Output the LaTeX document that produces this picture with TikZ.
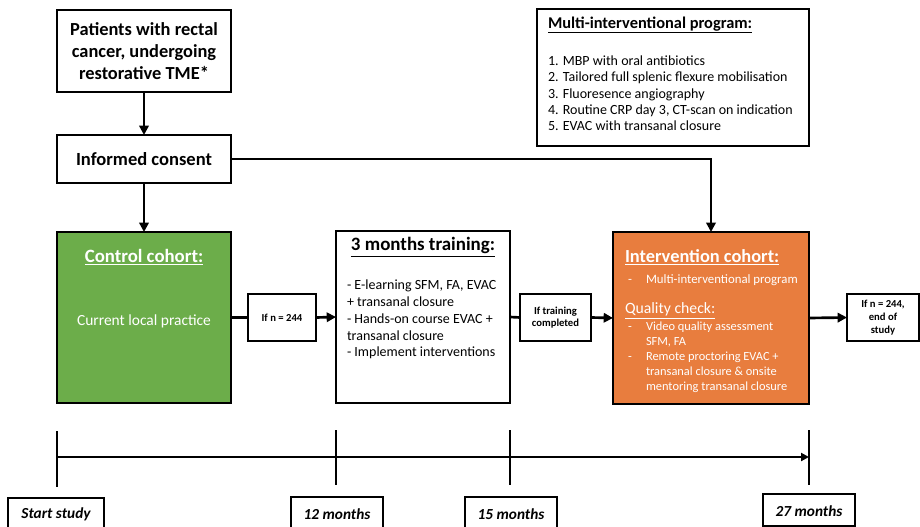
\documentclass[tikz,border=0pt]{standalone}
\usepackage{fontspec}
\setmainfont{Carlito}
\usetikzlibrary{arrows.meta,fit}
\definecolor{ctrlgreen}{HTML}{6CAD4A}
\definecolor{intorange}{HTML}{E87D3E}
\newcommand{\ul}[1]{\underline{#1}}
\newcommand{\dashitem}[1]{\makebox[13.5pt][l]{-}#1}
\newcommand{\noitem}[1]{\makebox[13.5pt][l]{}#1}
\begin{document}
\begin{tikzpicture}[x=0.75pt,y=-0.75pt,
  box/.style={draw=black, line width=1.1pt, inner sep=0pt, outer sep=0pt},
  flow/.style={line width=2pt, -{Triangle[length=7pt,width=7pt]}},
  link/.style={line width=2pt},
  tick/.style={line width=1.6pt},
  txt/.style={inner sep=0pt, outer sep=0pt},
  small/.style={txt, font=\fontsize{8}{9.5}\selectfont\bfseries, align=center},
  stamp/.style={txt, font=\fontsize{11.5}{13}\selectfont\bfseries\itshape}]
\useasboundingbox (0,0) rectangle (920,527);

% main boxes
\node[box, fit={(57,10)(231,92)}] (pat) {};
\node[box, fit={(57,135)(231,183)}] (cons) {};
\node[box, fill=ctrlgreen, fit={(57,232)(231,403)}] (ctrl) {};
\node[box, fit={(336,231)(510,403)}] (train) {};
\node[box, fill=intorange, fit={(613,232)(809,404)}] (intv) {};
\node[box, fit={(537,9)(809,146)}] (prog) {};
\node[box, fit={(248,294)(316,341)}] (n1) {};
\node[box, fit={(520,294)(591,341)}] (tc) {};
\node[box, fit={(847,294)(919,341)}] (endb) {};

% texts of the boxes
\node[txt, font=\fontsize{13.8}{16.5}\selectfont\bfseries, align=center] (patT) at (144,51)
  {Patients with rectal\\cancer, undergoing\\restorative TME*};
\node[txt, font=\fontsize{13.9}{16.5}\selectfont\bfseries] (consT) at (144,159) {Informed consent};
\node[txt, text=white, font=\fontsize{14.1}{16}\selectfont\bfseries] (ctrlT) at (144,257) {\ul{Control cohort:}};
\node[txt, text=white, font=\fontsize{11.6}{13}\selectfont] (ctrlB) at (144,321) {Current local practice};

\node[txt, font=\fontsize{14.2}{17}\selectfont\bfseries] (trainT) at (423,247) {\ul{3 months training:}};
\node[txt, anchor=north west, font=\fontsize{10.5}{12.6}\selectfont, align=left] (trainB) at (347,280)
  {- E-learning SFM, FA, EVAC\\+ transanal closure\\- Hands-on course EVAC +\\transanal closure\\- Implement interventions};

\node[txt, anchor=west, text=white, font=\fontsize{13.8}{16}\selectfont\bfseries] (intvT) at (625,257) {\ul{Intervention cohort:}};
\node[txt, anchor=west, text=white, font=\fontsize{9.6}{11.4}\selectfont] (intvA) at (628,280) {\dashitem{Multi-interventional program}};
\node[txt, anchor=west, text=white, font=\fontsize{11.8}{14}\selectfont] (intvQ) at (625,311) {\ul{Quality check:}};
\node[txt, anchor=north west, text=white, font=\fontsize{9.3}{11.3}\selectfont, align=left] (intvB) at (628,322)
  {\dashitem{Video quality assessment}\\\noitem{SFM, FA}\\\dashitem{Remote proctoring EVAC +}\\\noitem{transanal closure \& onsite}\\\noitem{mentoring transanal closure}};

\node[txt, anchor=west, font=\fontsize{12.3}{14}\selectfont\bfseries] (progT) at (548,25) {\ul{Multi-interventional program:}};
\node[txt, anchor=north west, font=\fontsize{10.5}{12.2}\selectfont, align=left] (progB) at (548,56)
  {1. MBP with oral antibiotics\\2. Tailored full splenic flexure mobilisation\\3. Fluoresence angiography\\4. Routine CRP day 3, CT-scan on indication\\5. EVAC with transanal closure};

\node[small] (n1T) at (n1) {If n = 244};
\node[small] (tcT) at (tc) {If training\\completed};
\node[small] (endT) at (endb) {If n = 244,\\end of\\study};

% flow connectors
\draw[flow] (pat.south) -- (cons.north);
\draw[flow] (cons.south) -- (ctrl.north);
\draw[flow] (cons.east) -| (intv.north);
\draw[link] (ctrl.east) -- (n1.west);
\draw[flow] (n1.east) -- (train.west);
\draw[link] (train.east) -- (tc.west);
\draw[flow] (tc.east) -- (intv.west);
\draw[flow] (intv.east) -- (endb.west);

% timeline
\coordinate (a0) at (57,431);  \coordinate (b0) at (57,487);
\coordinate (a1) at (336,430); \coordinate (b1) at (336,485);
\coordinate (a2) at (510,430); \coordinate (b2) at (510,485);
\coordinate (a3) at (809,430); \coordinate (b3) at (809,485);
\coordinate (m0) at (57,457);  \coordinate (m3) at (809,457);
\draw[tick] (a0) -- (b0);
\draw[tick] (a1) -- (b1);
\draw[tick] (a2) -- (b2);
\draw[tick] (a3) -- (b3);
\draw[line width=2pt, -{Triangle[length=6pt,width=6pt]}] (m0) -- (m3);

\node[box, line width=0.8pt, fit={(8,498)(104,540)}] (s0) {};
\node[box, line width=0.8pt, fit={(291,497)(383,540)}] (s1) {};
\node[box, line width=0.8pt, fit={(465,497)(557,540)}] (s2) {};
\node[box, line width=0.8pt, fit={(763,494)(855,526)}] (s3) {};
\node[stamp] (s0T) at (56,514) {Start study};
\node[stamp] (s1T) at (337,514) {12 months};
\node[stamp] (s2T) at (511,514) {15 months};
\node[stamp] (s3T) at (809,511) {27 months};
\end{tikzpicture}
\end{document}
